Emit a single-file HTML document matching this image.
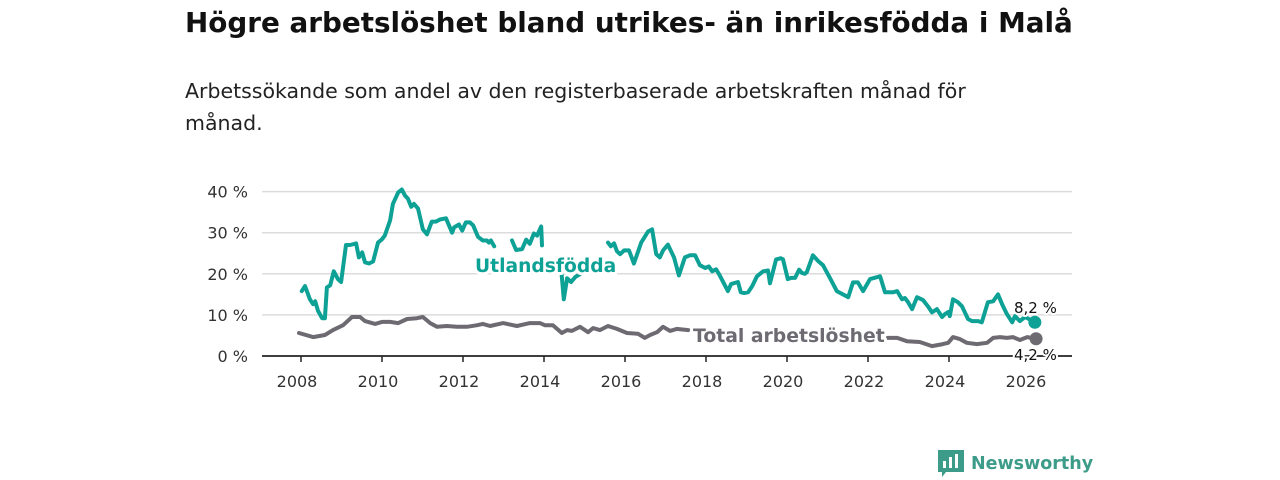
<!DOCTYPE html>
<html><head><meta charset="utf-8"><style>
body{margin:0;width:1280px;height:480px;background:#fff;overflow:hidden;font-family:"DejaVu Sans","Liberation Sans",sans-serif}
#title{position:absolute;left:185px;top:6px;font-size:27.8px;font-weight:bold;color:#111;margin:0;white-space:nowrap}
#sub{position:absolute;left:185px;top:75px;font-size:20.5px;line-height:32px;color:#222;width:860px}
svg{position:absolute;left:0;top:0}
</style></head><body>
<h1 id="title">Högre arbetslöshet bland utrikes- än inrikesfödda i Malå</h1>
<div id="sub">Arbetssökande som andel av den registerbaserade arbetskraften månad för månad.</div>
<svg id="chart" width="1280" height="480"></svg>
<script>
const yTicks=[0,10,20,30,40];
const yTickLabels=["0 %","10 %","20 %","30 %","40 %"];
const xTicks=[2008,2010,2012,2014,2016,2018,2020,2022,2024,2026];
const utlYears=[2008.02,2008.10,2008.22,2008.30,2008.35,2008.42,2008.52,2008.59,2008.64,2008.72,2008.81,2008.91,2008.99,2009.11,2009.21,2009.36,2009.43,2009.51,2009.58,2009.68,2009.78,2009.90,2010.00,2010.07,2010.20,2010.27,2010.40,2010.49,2010.57,2010.64,2010.72,2010.79,2010.89,2011.01,2011.11,2011.23,2011.33,2011.43,2011.58,2011.73,2011.78,2011.90,2011.98,2012.07,2012.17,2012.25,2012.37,2012.49,2012.59,2012.64,2012.69,2012.77,2013.0,2013.21,2013.31,2013.46,2013.56,2013.65,2013.75,2013.83,2013.93,2013.95,2014.2,2014.42,2014.49,2014.57,2014.67,2014.77,2014.89,2015.2,2015.58,2015.65,2015.73,2015.80,2015.88,2015.98,2016.10,2016.22,2016.40,2016.57,2016.67,2016.77,2016.86,2016.94,2017.06,2017.21,2017.33,2017.48,2017.60,2017.73,2017.85,2017.98,2018.07,2018.15,2018.25,2018.35,2018.54,2018.62,2018.79,2018.86,2018.94,2019.04,2019.14,2019.26,2019.41,2019.53,2019.58,2019.73,2019.85,2019.90,2020.02,2020.10,2020.20,2020.30,2020.37,2020.44,2020.49,2020.64,2020.77,2020.89,2021.06,2021.23,2021.51,2021.63,2021.75,2021.88,2022.05,2022.30,2022.42,2022.62,2022.72,2022.84,2022.91,2022.99,2023.09,2023.21,2023.36,2023.48,2023.58,2023.70,2023.83,2023.90,2023.98,2024.02,2024.10,2024.22,2024.32,2024.47,2024.57,2024.72,2024.81,2024.96,2025.09,2025.21,2025.31,2025.43,2025.56,2025.63,2025.75,2025.88,2026.12];
const utlValues=[15.8,17.0,13.8,12.6,13.3,11.0,9.2,9.2,16.7,17.2,20.6,18.7,18.0,27.0,27.0,27.4,24.0,25.2,22.8,22.5,23.0,27.6,28.4,29.3,33.0,37.0,39.8,40.5,39.0,38.3,36.3,37.0,35.9,30.8,29.6,32.7,32.7,33.2,33.5,30.0,31.3,32.0,30.5,32.5,32.5,31.8,29.0,28.1,28.1,27.6,28.1,26.7,null,28.1,25.8,26.0,28.3,27.3,29.8,29.3,31.5,26.9,null,21.6,13.8,18.9,18.0,19.2,19.9,null,27.6,26.7,27.4,25.5,24.8,25.7,25.7,22.5,27.6,30.3,30.8,24.8,24.0,25.7,27.1,24.0,19.6,24.0,24.5,24.5,22.1,21.4,21.8,20.6,21.1,19.4,15.8,17.5,18.0,15.5,15.3,15.5,17.0,19.4,20.6,20.8,17.7,23.5,23.8,23.5,18.7,19.0,19.0,21.0,20.2,20.0,20.4,24.5,23.1,22.1,19.0,15.8,14.3,17.9,17.9,15.8,18.7,19.4,15.5,15.5,15.8,13.8,14.1,13.1,11.4,14.3,13.6,12.1,10.6,11.4,9.5,10.2,10.7,9.7,13.8,13.1,12.1,9.0,8.5,8.5,8.2,13.1,13.3,15.0,12.6,10.2,8.2,9.7,8.5,9.5,8.2];
const totYears=[2007.95,2008.30,2008.59,2008.79,2009.04,2009.26,2009.46,2009.58,2009.83,2010.00,2010.20,2010.40,2010.62,2010.86,2011.01,2011.19,2011.36,2011.60,2011.85,2012.10,2012.35,2012.49,2012.67,2012.99,2013.33,2013.65,2013.90,2014.02,2014.22,2014.44,2014.57,2014.69,2014.89,2015.09,2015.21,2015.38,2015.58,2015.80,2016.05,2016.32,2016.49,2016.62,2016.79,2016.94,2017.11,2017.28,2017.56,2020.0,2022.49,2022.72,2022.96,2023.28,2023.58,2023.85,2023.98,2024.10,2024.27,2024.44,2024.69,2024.94,2025.09,2025.26,2025.43,2025.58,2025.75,2025.93,2026.15];
const totValues=[5.6,4.6,5.1,6.3,7.5,9.5,9.5,8.5,7.8,8.3,8.3,8.0,9.0,9.2,9.5,8.0,7.1,7.3,7.1,7.1,7.5,7.8,7.3,8.0,7.3,8.0,8.0,7.5,7.5,5.6,6.3,6.1,7.1,5.8,6.8,6.3,7.3,6.6,5.6,5.4,4.4,5.1,5.8,7.1,6.1,6.6,6.3,null,4.4,4.4,3.6,3.4,2.4,2.9,3.2,4.6,4.1,3.2,2.9,3.2,4.4,4.6,4.4,4.6,3.9,4.6,4.2];
</script>
<script>
const NS="http://www.w3.org/2000/svg";
const svg=document.getElementById('chart');
const L=262,R=1072;
const xs=y=>301+(y-2008)*40.5;
const ys=v=>356-v*4.11;
function mk(t,a,p){const e=document.createElementNS(NS,t);for(const k in a)e.setAttribute(k,a[k]);(p||svg).appendChild(e);return e;}
yTicks.forEach((t,i)=>{
  if(t>0){const g=mk('line',{x1:L,x2:R,y1:ys(t),y2:ys(t),stroke:'#dcdcdc','stroke-width':1.5});
  
  }
  const tx=mk('text',{x:248,y:ys(t)+6,'text-anchor':'end','font-size':16,fill:'#333'});
  tx.textContent=yTickLabels[i];
  
  
});
const ax=mk('line',{x1:L,x2:R,y1:356,y2:356,stroke:'#222','stroke-width':1.8});


xTicks.forEach(t=>{
  const tk=mk('line',{x1:xs(t),x2:xs(t),y1:356,y2:362,stroke:'#222','stroke-width':1.5});
  
  
  const tx=mk('text',{x:xs(t)-4,y:387,'text-anchor':'middle','font-size':16,fill:'#333'});
  tx.textContent=t;
  
  
});
function path(xv,vv,col,w){let d='',pen=false;xv.forEach((x,i)=>{if(vv[i]==null){pen=false;return;}d+=(pen?'L':'M')+xs(x).toFixed(1)+','+ys(vv[i]).toFixed(1);pen=true;});
  return mk('path',{d:d,fill:'none',stroke:col,'stroke-width':w,'stroke-linejoin':'round','stroke-linecap':'round'});}
const TEAL='#0ea195',GREY='#6d6a72';
const pt=path(totYears,totValues,GREY,4);


const pu=path(utlYears,utlValues,TEAL,4);


const d1=mk('circle',{cx:xs(utlYears[utlYears.length-1]),cy:ys(utlValues[utlValues.length-1]),r:6.5,fill:TEAL});


const d2=mk('circle',{cx:xs(totYears[totYears.length-1]),cy:ys(totValues[totValues.length-1]),r:6.5,fill:GREY});


function lab(txt,x,y,size,col,bold,name){const t=mk('text',{x:x,y:y,'font-size':size,fill:col,'font-weight':bold?'bold':'normal',stroke:'#fff','stroke-width':bold?6:4,'paint-order':'stroke','stroke-linejoin':'round'});t.textContent=txt;
  
  return t;}
lab('Utlandsfödda',475,272,18.7,TEAL,true,'utlandsfodda-label');
lab('Total arbetslöshet',693,342,18.8,GREY,true,'total-label');
lab(utlValues[utlValues.length-1].toFixed(1).replace('.',',')+' %',1014,313,15,'#111',false,'utlandsfodda-end-value');
lab(totValues[totValues.length-1].toFixed(1).replace('.',',')+' %',1014,360,15,'#111',false,'total-end-value');
const lg=mk('g',{});


mk('path',{d:'M938 450h26v22h-18l-4 5v-5h-4z',fill:'#3d9b8a'},lg);
mk('rect',{x:943,y:461,width:3,height:7,fill:'#fff'},lg);
mk('rect',{x:949,y:457,width:3,height:11,fill:'#fff'},lg);
mk('rect',{x:955,y:454,width:3,height:14,fill:'#fff'},lg);
const lt=mk('text',{x:971,y:469,'font-size':17.5,'font-weight':'bold',fill:'#3d9b8a'},lg);lt.textContent='Newsworthy';
</script>
</body></html>
